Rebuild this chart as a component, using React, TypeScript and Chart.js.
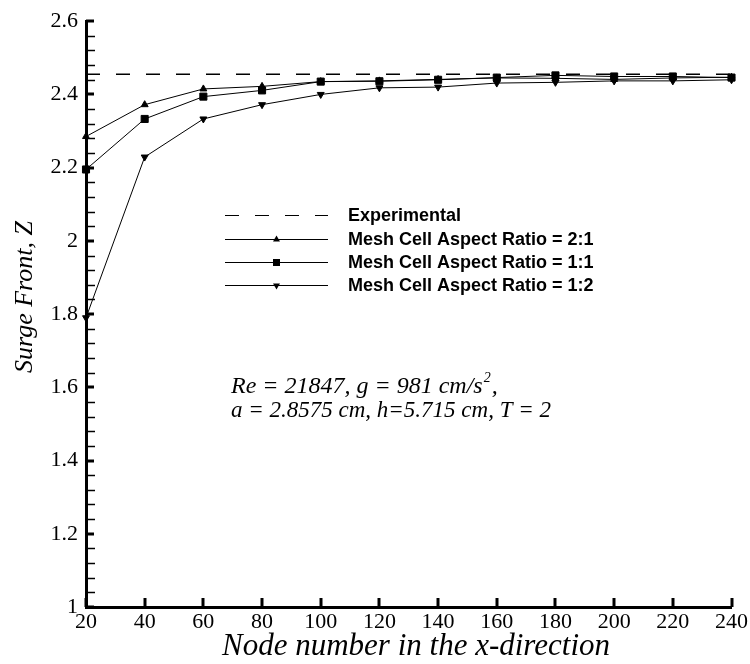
import React, { useEffect, useRef } from "react";
import { Chart, registerables } from "chart.js";

Chart.register(...registerables);

const nodeNumbers = [20, 40, 60, 80, 100, 120, 140, 160, 180, 200, 220, 240];
const experimentalValue = 2.455;
const ratio21 = [2.285, 2.372, 2.415, 2.422, 2.435, 2.437, 2.441, 2.445, 2.444, 2.441, 2.445, 2.447];
const ratio11 = [2.195, 2.333, 2.394, 2.411, 2.435, 2.436, 2.44, 2.446, 2.452, 2.449, 2.449, 2.446];
const ratio12 = [1.79, 2.229, 2.333, 2.372, 2.4, 2.418, 2.42, 2.431, 2.433, 2.437, 2.437, 2.44];
const seriesLabels = [
  "Experimental",
  "Mesh Cell Aspect Ratio = 2:1",
  "Mesh Cell Aspect Ratio = 1:1",
  "Mesh Cell Aspect Ratio = 1:2",
];
const xTitle = "Node number in the x-direction";
const yTitle = "Surge Front, Z";
const noteLine1 = "Re = 21847, g = 981 cm/s";
const noteLine2 = "a = 2.8575 cm, h=5.715 cm, T = 2";

const SERIF = "'Liberation Serif', 'Times New Roman', serif";
const SANS = "'Liberation Sans', Arial, sans-serif";

const decorPlugin = {
  id: "decor",
  beforeDatasetsDraw(chart: any) {
    const { ctx, chartArea, scales } = chart;
    const xs = scales.x;
    const ys = scales.y;
    ctx.save();
    ctx.strokeStyle = "#000";
    ctx.lineWidth = 1.5;
    for (let i = 0; i <= 40; i++) {
      if (i % 5 === 0) continue;
      const v = 1 + i * 0.04;
      const py = Math.round(ys.getPixelForValue(v)) + 0.5;
      ctx.beginPath();
      ctx.moveTo(chartArea.left, py);
      ctx.lineTo(chartArea.left + 9, py);
      ctx.stroke();
    }
    ctx.lineWidth = 3;
    for (let i = 0; i <= 8; i++) {
      const v = 1 + i * 0.2;
      const py = Math.round(ys.getPixelForValue(v));
      ctx.beginPath();
      ctx.moveTo(chartArea.left, py);
      ctx.lineTo(chartArea.left + 8, py);
      ctx.stroke();
    }
    for (let i = 0; i < nodeNumbers.length; i++) {
      const px = Math.round(xs.getPixelForValue(nodeNumbers[i]));
      ctx.beginPath();
      ctx.moveTo(px, chartArea.bottom);
      ctx.lineTo(px, chartArea.bottom - 9);
      ctx.stroke();
    }
    ctx.restore();
  },
  afterDraw(chart: any) {
    const { ctx } = chart;
    ctx.save();
    ctx.fillStyle = "#000";
    ctx.textAlign = "center";
    ctx.textBaseline = "middle";
    ctx.font = `italic 31px ${SERIF}`;
    ctx.fillText(xTitle, 416, 647);
    ctx.save();
    ctx.font = `italic 26px ${SERIF}`;
    ctx.translate(25, 297);
    ctx.rotate(-Math.PI / 2);
    ctx.fillText(yTitle, 0, 0);
    ctx.restore();

    const rows = [215, 239, 262, 285];
    const x0 = 225;
    const x1 = 328;
    seriesLabels.forEach((label, i) => {
      const ds = chart.data.datasets.find((d: any) => d.label === label);
      if (!ds) return;
      const ry = rows[i];
      ctx.save();
      ctx.strokeStyle = "#000";
      ctx.lineWidth = 1;
      ctx.setLineDash(ds.borderDash || []);
      ctx.beginPath();
      ctx.moveTo(x0, ry + 0.5);
      ctx.lineTo(x1, ry + 0.5);
      ctx.stroke();
      ctx.setLineDash([]);
      if (ds.pointStyle && ds.pointRadius > 0) {
        ctx.fillStyle = "#000";
        const cx = (x0 + x1) / 2;
        if (ds.pointStyle === "rect") {
          ctx.fillRect(cx - 3.5, ry + 0.5 - 3.5, 7, 7);
        } else {
          const up = ds.pointRotation ? -1 : 1;
          const r = 4;
          ctx.beginPath();
          ctx.moveTo(cx, ry + 0.5 - up * r);
          ctx.lineTo(cx - r * 0.87, ry + 0.5 + up * r * 0.5);
          ctx.lineTo(cx + r * 0.87, ry + 0.5 + up * r * 0.5);
          ctx.closePath();
          ctx.fill();
        }
      }
      ctx.restore();
      ctx.font = `bold 18px ${SANS}`;
      ctx.textAlign = "left";
      ctx.textBaseline = "middle";
      ctx.fillText(label, 348, ry + 1);
    });

    ctx.textAlign = "left";
    ctx.textBaseline = "alphabetic";
    const ax = 231;
    ctx.font = `italic 24px ${SERIF}`;
    ctx.fillText(noteLine1, ax, 393);
    const w = ctx.measureText(noteLine1).width;
    ctx.font = `italic 14px ${SERIF}`;
    ctx.fillText("2", ax + w + 1, 382);
    const w2 = ctx.measureText("2").width;
    ctx.font = `italic 24px ${SERIF}`;
    ctx.fillText(",", ax + w + w2 + 2, 393);
    ctx.font = `italic 23px ${SERIF}`;
    ctx.fillText(noteLine2, ax, 417);
    ctx.restore();
  },
};

export default function App() {
  const canvasRef = useRef<HTMLCanvasElement | null>(null);

  useEffect(() => {
    if (!canvasRef.current) return;
    const mk = (arr: number[]) => nodeNumbers.map((x, i) => ({ x, y: arr[i] }));
    const chart = new Chart(canvasRef.current, {
      type: "line",
      data: {
        datasets: [
          {
            label: seriesLabels[0],
            data: [
              { x: nodeNumbers[0], y: experimentalValue },
              { x: nodeNumbers[nodeNumbers.length - 1], y: experimentalValue },
            ],
            borderColor: "#000",
            borderWidth: 1.5,
            borderDash: [14, 16],
            pointRadius: 0,
            pointStyle: false as any,
          },
          {
            label: seriesLabels[1],
            data: mk(ratio21),
            borderColor: "#000",
            backgroundColor: "#000",
            borderWidth: 1,
            pointStyle: "triangle",
            pointRadius: 4,
            pointRotation: 0,
          },
          {
            label: seriesLabels[3],
            data: mk(ratio12),
            borderColor: "#000",
            backgroundColor: "#000",
            borderWidth: 1,
            pointStyle: "triangle",
            pointRadius: 4,
            pointRotation: 180,
          },
          {
            label: seriesLabels[2],
            data: mk(ratio11),
            borderColor: "#000",
            backgroundColor: "#000",
            borderWidth: 1,
            pointStyle: "rect",
            pointRadius: 5,
          },
        ] as any,
      },
      options: {
        animation: false,
        responsive: false,
        maintainAspectRatio: false,
        clip: false as any,
        layout: { padding: { top: 15, right: 15, left: 0, bottom: 0 } },
        plugins: { legend: { display: false }, tooltip: { enabled: false } },
        elements: { line: { tension: 0 }, point: { borderWidth: 0 } },
        scales: {
          x: {
            type: "linear",
            min: 20,
            max: 240,
            grid: { display: false, drawTicks: false },
            border: { display: true, color: "#000", width: 3 },
            ticks: {
              stepSize: 20,
              color: "#000",
              font: { family: SERIF, size: 22 },
              padding: 2,
              maxRotation: 0,
              autoSkip: false,
            },
            afterFit: (s: any) => {
              s.height = 57;
            },
          },
          y: {
            type: "linear",
            min: 1,
            max: 2.6,
            grid: { display: false, drawTicks: false },
            border: { display: true, color: "#000", width: 3 },
            ticks: {
              stepSize: 0.2,
              color: "#000",
              font: { family: SERIF, size: 22 },
              padding: 8,
              callback: (v: any) => String(Math.round(Number(v) * 10) / 10),
            },
            afterFit: (s: any) => {
              s.width = 86;
            },
          },
        },
      },
      plugins: [decorPlugin],
    });
    return () => chart.destroy();
  }, []);

  return (
    <div style={{ position: "absolute", left: 0, top: 0, width: 750, height: 664, background: "#fff" }}>
      <canvas ref={canvasRef} width={750} height={664} />
    </div>
  );
}
